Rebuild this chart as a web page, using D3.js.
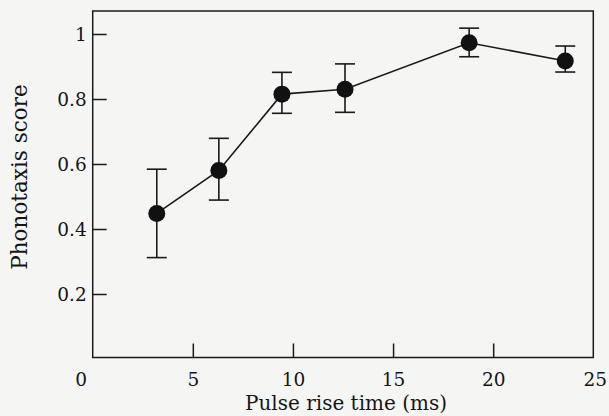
<!DOCTYPE html>
<html>
<head>
<meta charset="utf-8">
<script src="https://cdn.jsdelivr.net/npm/d3@7"></script>
<style>
  html, body { margin: 0; padding: 0; background: #f5f5f4; }
  #chart { width: 609px; height: 416px; }
  svg text { font-family: "DejaVu Serif", "Liberation Serif", serif; fill: #151515; }
</style>
</head>
<body>
<div id="chart"></div>
<script>
// values
var riseTime = [3.2, 6.3, 9.45, 12.6, 18.8, 23.6];
var score    = [0.448, 0.58, 0.815, 0.83, 0.973, 0.917];
var errHigh  = [0.584, 0.679, 0.882, 0.908, 1.018, 0.963];
var errLow   = [0.312, 0.489, 0.756, 0.759, 0.930, 0.883];

var xTickLabels = [0, 5, 10, 15, 20, 25];
var xTickMarks = [5, 10, 15, 20];
var yTicks = [0.2, 0.4, 0.6, 0.8, 1];

var width = 609, height = 416;
var plotLeft = 92.7, plotRight = 593.3, plotTop = 11, plotBottom = 357.5;

var svg = d3.select("#chart").append("svg")
  .attr("width", width)
  .attr("height", height);

var x = d3.scaleLinear().domain([0, 25]).range([plotLeft, plotRight]);
var y = d3.scaleLinear().domain([0, 1]).range([359, 34]);

var points = riseTime.map(function (t, i) {
  return {x: t, y: score[i], hi: errHigh[i], lo: errLow[i]};
});

// frame
svg.append("rect")
  .attr("x", plotLeft).attr("y", plotTop)
  .attr("width", plotRight - plotLeft).attr("height", plotBottom - plotTop)
  .attr("fill", "none")
  .attr("stroke", "#1a1a1a")
  .attr("stroke-width", 1.5);

// y ticks, pointing inward
var yAxis = svg.append("g")
  .attr("transform", "translate(" + plotLeft + ",0)")
  .call(d3.axisRight(y).tickValues(yTicks).tickSize(14)
    .tickFormat(function (d) { return d === 1 ? "1" : d3.format(".1f")(d); }))
  .attr("font-family", null)
  .attr("font-size", null);
yAxis.select(".domain").remove();
yAxis.selectAll("line").attr("stroke", "#1a1a1a").attr("stroke-width", 1.5);
yAxis.selectAll("text")
  .attr("x", -6)
  .attr("text-anchor", "end")
  .attr("dy", "0.36em")
  .style("font-size", "18.5px");

// x ticks, pointing inward
var xTicks = svg.append("g")
  .attr("transform", "translate(0," + plotBottom + ")")
  .call(d3.axisTop(x).tickValues(xTickMarks).tickSize(14).tickFormat(""));
xTicks.select(".domain").remove();
xTicks.selectAll("line").attr("stroke", "#1a1a1a").attr("stroke-width", 1.5);

// x tick labels
var xLabels = svg.append("g")
  .attr("transform", "translate(0," + plotBottom + ")")
  .call(d3.axisBottom(x).tickValues(xTickLabels).tickSize(0)
    .tickFormat(d3.format("d")))
  .attr("font-family", null)
  .attr("font-size", null);
xLabels.select(".domain").remove();
xLabels.selectAll("text")
  .attr("y", 28)
  .attr("dy", 0)
  .style("font-size", "18.5px")
  .attr("dx", function (d) { return d === 0 ? -12 : (d === 25 ? 1.5 : 0); });

// axis titles
svg.append("text")
  .attr("x", 346).attr("y", 410)
  .attr("text-anchor", "middle")
  .style("font-size", "20px")
  .text("Pulse rise time (ms)");

svg.append("text")
  .attr("transform", "translate(27,177) rotate(-90)")
  .attr("text-anchor", "middle")
  .style("font-size", "21.5px")
  .text("Phonotaxis score");

// connecting line
svg.append("path")
  .datum(points)
  .attr("fill", "none")
  .attr("stroke", "#1a1a1a")
  .attr("stroke-width", 1.6)
  .attr("d", d3.line().x(function (d) { return x(d.x); }).y(function (d) { return y(d.y); }));

// error bars
var cap = 10;
var bars = svg.selectAll(".err")
  .data(points)
  .enter().append("g")
  .attr("class", "err")
  .attr("stroke", "#1a1a1a")
  .attr("stroke-width", 1.6);

bars.append("line")
  .attr("x1", function (d) { return x(d.x); })
  .attr("x2", function (d) { return x(d.x); })
  .attr("y1", function (d) { return y(d.hi); })
  .attr("y2", function (d) { return y(d.lo); });
bars.append("line")
  .attr("x1", function (d) { return x(d.x) - cap; })
  .attr("x2", function (d) { return x(d.x) + cap; })
  .attr("y1", function (d) { return y(d.hi); })
  .attr("y2", function (d) { return y(d.hi); });
bars.append("line")
  .attr("x1", function (d) { return x(d.x) - cap; })
  .attr("x2", function (d) { return x(d.x) + cap; })
  .attr("y1", function (d) { return y(d.lo); })
  .attr("y2", function (d) { return y(d.lo); });

// markers
svg.selectAll(".dot")
  .data(points)
  .enter().append("circle")
  .attr("class", "dot")
  .attr("cx", function (d) { return x(d.x); })
  .attr("cy", function (d) { return y(d.y); })
  .attr("r", 8.5)
  .attr("fill", "#111");
</script>
</body>
</html>
